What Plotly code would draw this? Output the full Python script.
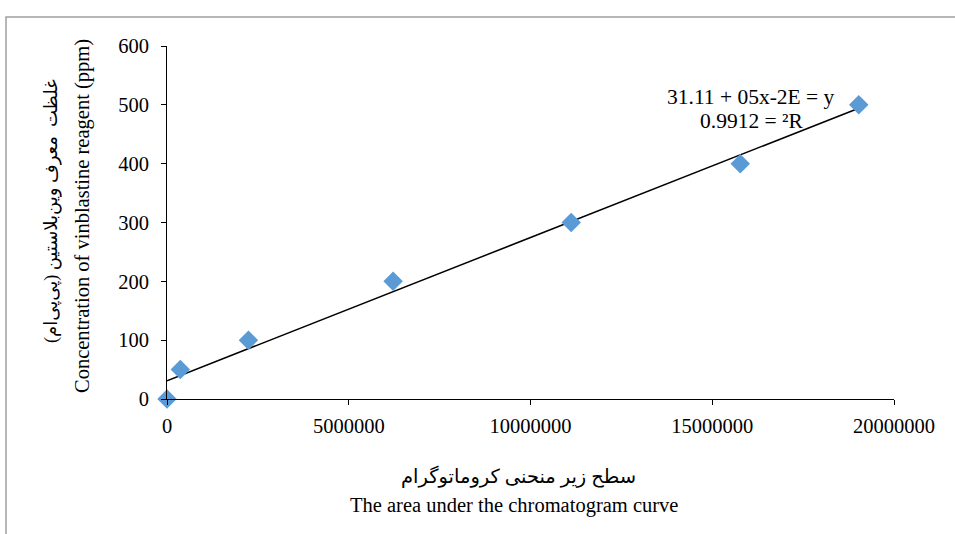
import numpy as np
import plotly.graph_objects as go

# Data
area = [0, 366000, 2240000, 6220000, 11120000, 15770000, 19030000]
concentration = [0, 50, 100, 200, 300, 400, 500]

x_ticks = [0, 5000000, 10000000, 15000000, 20000000]
y_ticks = [0, 100, 200, 300, 400, 500, 600]

x_title_fa = "سطح زیر منحنی کروماتوگرام"
x_title_en = "The area under the chromatogram curve"
y_title_fa = "غلظت  معرف وین‌بلاستین (پی‌پی‌ام)"
y_title_en = "Concentration of vinblastine reagent (ppm)"
eq_line1 = "31.11 + 05x-2E = y"
eq_line2 = "0.9912 = ²R"

FONT = "Liberation Serif, 'Times New Roman', DejaVu Sans, serif"
FS = 20.5

# Linear trendline (least squares) from the data
slope, intercept = np.polyfit(area, concentration, 1)
tx = np.array([min(area), max(area)])
ty = slope * tx + intercept

fig = go.Figure()
fig.add_trace(go.Scatter(
    x=tx, y=ty, mode="lines",
    line=dict(color="black", width=1.5),
    hoverinfo="skip", showlegend=False,
))
fig.add_trace(go.Scatter(
    x=area, y=concentration, mode="markers",
    marker=dict(symbol="diamond", size=15, color="#5B9BD5", line=dict(width=0)),
    cliponaxis=False, showlegend=False,
))

L, R, T, B = 167, 61, 46, 135
W, H = 955, 534
pw, ph = W - L - R, H - T - B

def px_to_paper_x(px):
    return (px - L) / pw

def px_to_paper_y(py):
    return (H - B - py) / ph

fig.update_layout(
    width=W, height=H,
    margin=dict(l=L, r=R, t=T, b=B, pad=0),
    paper_bgcolor="white", plot_bgcolor="white",
    font=dict(family=FONT, size=FS, color="black"),
    showlegend=False,
    xaxis=dict(
        range=[0, 20000000], tickvals=x_ticks,
        ticktext=[str(v) for v in x_ticks],
        showgrid=False, zeroline=False,
        showline=True, linecolor="black", linewidth=1,
        ticks="outside", ticklen=5, tickcolor="black", tickwidth=1,
        ticklabelstandoff=3,
        tickfont=dict(family=FONT, size=FS),
    ),
    yaxis=dict(
        range=[0, 600], tickvals=y_ticks,
        showgrid=False, zeroline=False,
        showline=True, linecolor="black", linewidth=1,
        ticks="outside", ticklen=5, tickcolor="black", tickwidth=1,
        ticklabelstandoff=8,
        tickfont=dict(family=FONT, size=FS),
    ),
    shapes=[dict(
        type="rect", xref="paper", yref="paper",
        x0=px_to_paper_x(6), x1=px_to_paper_x(1100),
        y0=px_to_paper_y(700), y1=px_to_paper_y(17),
        line=dict(color="#A0A0A0", width=1.5),
        fillcolor="rgba(0,0,0,0)", layer="below",
    )],
)

def ann(text, cx, cy, angle=0, size=FS):
    fig.add_annotation(
        text=text, xref="paper", yref="paper",
        x=px_to_paper_x(cx), y=px_to_paper_y(cy),
        xanchor="center", yanchor="middle",
        showarrow=False, textangle=angle,
        font=dict(family=FONT, size=size, color="black"),
    )

ann(x_title_fa, 518, 476, size=19.5)
ann(x_title_en, 514, 506)
ann(y_title_fa, 51, 211, -90, size=18)
ann(y_title_en, 83, 216, -90)
ann(eq_line1, 751, 97, size=21.5)
ann(eq_line2, 751, 121, size=21.5)

fig.write_html(
    "out.html",
    config={"displayModeBar": False},
    post_script="document.body.style.margin='0';document.body.style.overflow='hidden';",
)
